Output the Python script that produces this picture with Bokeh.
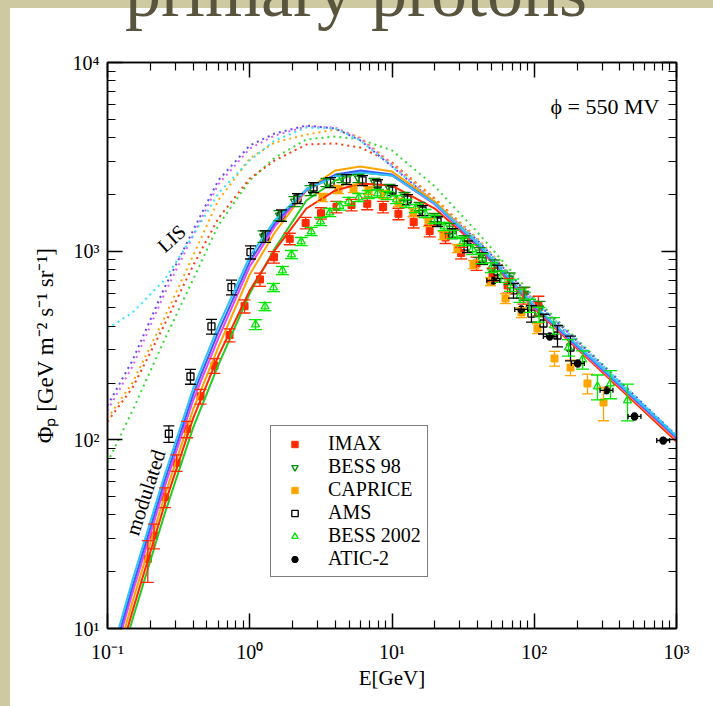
import math
from bokeh.plotting import figure
from bokeh.models import (Label, Whisker, TeeHead, ColumnDataSource, FixedTicker,
                          LogAxis, Legend, LegendItem, CustomJSTickFormatter, Div)
from bokeh.layouts import column
from bokeh.embed import file_html
from bokeh.resources import INLINE

# ------------------------------------------------------------------ data
IMAX_E = [0.192, 0.212, 0.254, 0.306, 0.363, 0.451, 0.565, 0.721, 0.919, 1.18, 1.48, 1.91, 2.47, 3.17,
          4.07, 5.19, 6.70, 8.65, 11.1, 14.2, 18.4, 23.8, 30.6, 39.3, 50.9, 64.9, 84.0, 107]
IMAX_F = [23.4, 31.1, 49.7, 75.6, 114, 170, 247, 359, 511, 708, 929, 1163, 1410, 1588,
          1715, 1757, 1783, 1715, 1578, 1427, 1279, 1181, 978, 860, 752, 658, 582, 515]
IMAX_ERR = [0.25, 0.15, 0.12, 0.10, 0.10, 0.09, 0.09, 0.08, 0.08, 0.08, 0.07, 0.07, 0.07, 0.07,
            0.07, 0.07, 0.07, 0.07, 0.07, 0.07, 0.07, 0.07, 0.07, 0.08, 0.08, 0.09, 0.10, 0.12]

BESS98_E = [1.249, 1.618, 2.064, 2.673, 3.464, 4.487, 5.814, 7.534, 9.603, 12.24, 15.61, 19.90,
            25.36, 32.33, 41.22, 52.55, 66.99, 85.40, 108.9]
BESS98_F = [1196, 1546, 1834, 2097, 2312, 2428, 2428, 2312, 2149, 1949, 1726, 1508,
            1319, 1139, 984, 840, 716, 597, 497]
BESS98_ERR = [0.07, 0.06, 0.06, 0.06, 0.05, 0.05, 0.05, 0.05, 0.05, 0.05, 0.05, 0.05,
              0.06, 0.06, 0.06, 0.07, 0.07, 0.08, 0.09]

CAPRICE_E = [3.246, 4.206, 5.362, 6.837, 8.714, 11.11, 14.16, 18.06, 23.01, 28.87, 37.41, 49.26,
             62.81, 81.36, 105.4, 138.8, 179.8, 236.7, 306.8]
CAPRICE_F = [1925, 2123, 2149, 2097, 1997, 1811, 1603, 1419, 1211, 1033, 850, 690.6,
             561.3, 473, 389.2, 269.9, 241.7, 198.9, 157.8]
CAPRICE_ERR = [0.05, 0.05, 0.05, 0.05, 0.05, 0.05, 0.05, 0.05, 0.05, 0.05, 0.05, 0.05,
               0.06, 0.06, 0.06, 0.09, 0.095, 0.12, 0.20]

AMS_E = [0.270, 0.383, 0.538, 0.744, 1.012, 1.290, 1.672, 2.166, 2.807, 3.696, 4.787, 6.203, 7.908,
         10.08, 12.85, 16.39, 20.89, 26.63, 33.95, 43.27, 55.17, 71.47, 95.6, 116.1, 145.7, 179.8]
AMS_F = [107.7, 216.6, 399, 644, 988, 1196, 1546, 1902, 2175, 2312, 2399, 2370, 2256,
         2097, 1879, 1643, 1436, 1241, 1058, 914, 780, 619, 467, 413.5, 357.3, 308.6]
AMS_ERR = [0.10, 0.09, 0.09, 0.09, 0.08, 0.07, 0.07, 0.06, 0.06, 0.06, 0.06, 0.06, 0.06,
           0.06, 0.06, 0.06, 0.06, 0.06, 0.07, 0.07, 0.08, 0.09, 0.10, 0.12, 0.13, 0.15]

BESS02_E = [1.098, 1.280, 1.469, 1.699, 1.966, 2.300, 2.704, 3.144, 3.654, 4.296, 4.969, 5.842,
            6.804, 7.908, 9.253, 10.75, 12.54, 14.63, 17.06, 19.90, 23.21, 27.06, 31.56, 36.81,
            42.93, 50.06, 58.39, 68.08, 79.40, 92.60, 108.0, 136.6, 174.1, 218.4, 278.4, 343.6, 452.4]
BESS02_F = [408.7, 508.9, 642, 790, 960, 1125, 1272, 1436, 1603, 1736, 1834, 1925,
            1997, 2022, 1973, 1879, 1789, 1684, 1584, 1472, 1351, 1226, 1125, 1021,
            914, 819, 734, 658, 582, 515, 461.7, 403.7, 308.6, 266.6, 191.8, 198.9, 161.6]
BESS02_ERR = [0.06, 0.05, 0.05, 0.05, 0.05, 0.05, 0.05, 0.05, 0.05, 0.05, 0.05, 0.05,
              0.05, 0.05, 0.05, 0.05, 0.05, 0.05, 0.05, 0.05, 0.05, 0.05, 0.05, 0.06,
              0.06, 0.06, 0.07, 0.07, 0.08, 0.08, 0.09, 0.10, 0.10, 0.11, 0.15, 0.17, 0.22]

ATIC_E = [51.5, 81.0, 128.6, 202.4, 322.0, 506.8, 806.0]
ATIC_F = [699, 491, 353, 254, 183, 133, 99.2]
ATIC_ERR = [0.04, 0.04, 0.04, 0.04, 0.04, 0.04, 0.04]
ATIC_XERR = [0.11, 0.11, 0.11, 0.11, 0.11, 0.11, 0.11]

# model curves on a common energy grid
MODEL_E = [0.1, 0.15, 0.25, 0.4, 0.6, 1, 1.5, 2.5, 4, 6, 10, 20, 40, 100, 1000]
MOD_CYAN = [6.14, 18.1, 63.9, 187, 399, 937, 1459, 2123, 2488, 2612, 2518, 1789, 1099, 515, 104.2]
MOD_BLUE = [5.70, 16.7, 59.4, 174, 371, 881, 1403, 2123, 2547, 2673, 2547, 1789, 1084, 509, 102.9]
MOD_MAGENTA = [5.30, 15.5, 55.2, 162, 344, 829, 1352, 2099, 2518, 2642, 2518, 1767, 1072, 503, 101.6]
MOD_ORANGE = [4.69, 13.9, 49.4, 145, 308, 752, 1256, 2099, 2679, 2812, 2642, 1832, 1099, 503, 100.4]
MOD_RED = [4.26, 12.4, 44.4, 130, 277, 619, 1009, 1683, 2099, 2284, 2228, 1683, 1059, 497, 98.0]
MOD_GREEN = [3.81, 11.2, 39.7, 116, 248, 597, 1033, 1857, 2370, 2612, 2518, 1811, 1099, 503, 99.2]

LIS_CYAN = [389, 473, 700, 1211, 2023, 3027, 3864, 4521, 4467, 3864, 2812, 1811, 1140, 548, 105.4]
LIS_BLUE = [152, 264, 634, 1288, 2370, 3631, 4207, 4634, 4467, 3864, 2812, 1811, 1140, 548, 105.4]
LIS_MAGENTA = [143, 245, 589, 1211, 2256, 3499, 4102, 4581, 4521, 3954, 2877, 1832, 1140, 541, 104.2]
LIS_ORANGE = [130, 201, 440, 948, 1857, 3097, 3767, 4150, 4416, 4000, 2917, 1901, 1167, 548, 102.9]
LIS_RED = [125, 189, 404, 839, 1489, 2427, 3027, 3673, 3724, 3540, 2951, 1901, 1140, 535, 101.6]
LIS_GREEN = [75.9, 143, 336, 708, 1368, 2370, 3133, 3908, 4055, 3908, 3420, 2203, 1256, 568, 104.2]

X_TICKS = [0.1, 1, 10, 100, 1000]
X_TICK_LABELS = ["10⁻¹", "10⁰", "10¹", "10²", "10³"]
Y_TICKS = [10, 100, 1000, 10000]
Y_TICK_LABELS = ["10¹", "10²", "10³", "10⁴"]

# ------------------------------------------------------------------ layout
FONT = "Liberation Serif"
BEIGE = "#cfc9a1"
PAGE_W, PAGE_H = 713, 706
OX = 10            # beige strip on the left
TOP_H = 8          # beige strip on the top
FX0, FX1, FY0, FY1 = 107, 676, 62, 628   # frame edges in page pixels


def xd(px):
    return 10 ** (-1 + 4 * (px - FX0) / (FX1 - FX0))


def yd(py):
    return 10 ** (4 - 3 * (py - FY0) / (FY1 - FY0))


p = figure(width=PAGE_W - OX, height=PAGE_H - TOP_H, x_axis_type="log", y_axis_type="log",
           x_range=(0.1, 1000), y_range=(10, 10000), output_backend="svg",
           toolbar_location=None,
           min_border_left=FX0 - OX, min_border_right=PAGE_W - FX1,
           min_border_top=FY0 - TOP_H, min_border_bottom=PAGE_H - FY1)
p.margin = (0, 0, 0, OX)
p.title.visible = False
p.background_fill_color = "white"
p.border_fill_color = "white"
p.outline_line_color = "black"
p.outline_line_width = 1.5
p.grid.visible = False

xminor = [m * 10 ** k for k in range(-1, 3) for m in range(2, 10)]
yminor = [m * 10 ** k for k in range(1, 4) for m in range(2, 10)]

p.add_layout(LogAxis(), "above")
p.add_layout(LogAxis(), "right")
for ax in p.xaxis:
    ax.ticker = FixedTicker(ticks=X_TICKS, minor_ticks=xminor)
for ax in p.yaxis:
    ax.ticker = FixedTicker(ticks=Y_TICKS, minor_ticks=yminor)
for ax in list(p.xaxis) + list(p.yaxis):
    ax.major_tick_in = 15
    ax.major_tick_out = 0
    ax.minor_tick_in = 8
    ax.minor_tick_out = 0
    ax.axis_line_width = 1.5
    ax.major_tick_line_width = 1.5
    ax.minor_tick_line_width = 1.2
    ax.axis_line_color = "black"
    ax.major_tick_line_color = "black"
    ax.minor_tick_line_color = "black"
    ax.major_label_text_font = FONT
    ax.major_label_text_color = "black"
    ax.axis_label_text_font = FONT
    ax.axis_label_text_font_style = "normal"
    ax.axis_label_text_color = "black"

blank = CustomJSTickFormatter(code="return ''")
for ax in (p.above[0], p.right[0]):
    ax.formatter = blank
    ax.major_label_text_font_size = "0px"

xb = p.below[0]
xb.major_label_overrides = dict(zip(X_TICKS, X_TICK_LABELS))
xb.major_label_text_font_size = "20px"
xb.major_label_standoff = 12
xb.axis_label = "E[GeV]"
xb.axis_label_text_font_size = "21px"
xb.axis_label_standoff = 0

yl = p.left[0]
yl.major_label_overrides = dict(zip(Y_TICKS, Y_TICK_LABELS))
yl.major_label_text_font_size = "20px"
yl.major_label_standoff = 8
yl.axis_label = "Φₚ [GeV m⁻² s⁻¹ sr⁻¹]"
yl.axis_label_text_font_size = "23px"
yl.axis_label_standoff = 12

# ------------------------------------------------------------------ curves (LIS dotted)
dot_specs = [(LIS_GREEN, "#33dd33"), (LIS_RED, "#ff3a10"), (LIS_ORANGE, "#ffa500"),
             (LIS_MAGENTA, "#e060ff"), (LIS_BLUE, "#5a4dff"), (LIS_CYAN, "#33e6ff")]
for ys, col in dot_specs:
    p.line(MODEL_E, ys, line_color=col, line_width=2, line_dash="2 4")


# ------------------------------------------------------------------ data points
def errbars(E, F, err, color, size, width=1.3):
    src = ColumnDataSource(dict(x=E, lo=[f * (1 - e) for f, e in zip(F, err)],
                                hi=[f * (1 + e) for f, e in zip(F, err)]))
    w = Whisker(source=src, base="x", lower="lo", upper="hi", dimension="height",
                line_color=color, line_width=width, level="glyph",
                upper_head=TeeHead(size=size, line_color=color, line_width=width),
                lower_head=TeeHead(size=size, line_color=color, line_width=width))
    p.add_layout(w)


C_IMAX, C_B98, C_CAP, C_AMS, C_B02, C_ATIC = "#ff2a00", "#008f00", "#ffa500", "black", "#00e600", "black"

errbars(IMAX_E, IMAX_F, IMAX_ERR, C_IMAX, 12)
errbars(BESS98_E, BESS98_F, BESS98_ERR, C_B98, 12)
errbars(CAPRICE_E, CAPRICE_F, CAPRICE_ERR, C_CAP, 11)
errbars(AMS_E, AMS_F, AMS_ERR, C_AMS, 11)
errbars(BESS02_E, BESS02_F, BESS02_ERR, C_B02, 13)
errbars(ATIC_E, ATIC_F, ATIC_ERR, C_ATIC, 4)
xsrc = ColumnDataSource(dict(y=ATIC_F, lo=[e / (1 + d) for e, d in zip(ATIC_E, ATIC_XERR)],
                             hi=[e * (1 + d) for e, d in zip(ATIC_E, ATIC_XERR)]))
p.add_layout(Whisker(source=xsrc, base="y", lower="lo", upper="hi", dimension="width",
                     line_color="black", line_width=1.3, level="glyph",
                     upper_head=TeeHead(size=5, line_color="black", line_width=1.3),
                     lower_head=TeeHead(size=5, line_color="black", line_width=1.3)))

r_imax = p.scatter(IMAX_E, IMAX_F, marker="square", size=7, fill_color=C_IMAX, line_color=C_IMAX)
r_b98 = p.scatter(BESS98_E, BESS98_F, marker="inverted_triangle", size=8, fill_color=None,
                  line_color=C_B98, line_width=1.3)
r_cap = p.scatter(CAPRICE_E, CAPRICE_F, marker="square", size=7, fill_color=C_CAP, line_color=C_CAP)
r_ams = p.scatter(AMS_E, AMS_F, marker="square", size=7, fill_color="white", line_color=C_AMS,
                  line_width=1.3)
r_b02 = p.scatter(BESS02_E, BESS02_F, marker="triangle", size=8, fill_color="white",
                  line_color=C_B02, line_width=1.3)
r_atic = p.scatter(ATIC_E, ATIC_F, marker="circle", size=7, fill_color=C_ATIC, line_color=C_ATIC)

# ------------------------------------------------------------------ modulated solid curves
solid_specs = [(MOD_GREEN, "#22cc22"), (MOD_RED, "#ff2a00"), (MOD_ORANGE, "#ffa500"),
               (MOD_MAGENTA, "#ee44ee"), (MOD_BLUE, "#3a5cff"), (MOD_CYAN, "#2ec4ff")]
for ys, col in solid_specs:
    p.line(MODEL_E, ys, line_color=col, line_width=2)

# ------------------------------------------------------------------ legend
legend = Legend(items=[LegendItem(label="IMAX", renderers=[r_imax]),
                       LegendItem(label="BESS 98", renderers=[r_b98]),
                       LegendItem(label="CAPRICE", renderers=[r_cap]),
                       LegendItem(label="AMS", renderers=[r_ams]),
                       LegendItem(label="BESS 2002", renderers=[r_b02]),
                       LegendItem(label="ATIC-2", renderers=[r_atic])],
                location=(163, 51), label_text_font=FONT, label_text_font_size="20px",
                label_text_color="black",
                label_height=20, glyph_height=16, glyph_width=35, spacing=0, padding=6,
                margin=0, label_standoff=16, border_line_color="black", border_line_width=1.5,
                background_fill_color="white", background_fill_alpha=1.0)
p.add_layout(legend)


# ------------------------------------------------------------------ texts inside the frame
def lab(px, py, text, size, align="left", base="middle", angle=0.0, color="black"):
    p.add_layout(Label(x=xd(px), y=yd(py), text=text, text_font=FONT,
                       text_font_size=f"{size}px", text_align=align, text_baseline=base,
                       angle=angle, text_color=color))


lab(550, 106, "ϕ = 550 MV", 22)
lab(171, 238, "LIS", 20, align="center", angle=math.radians(42))
lab(145, 492, "modulated", 21, align="center", angle=math.radians(72))

# ------------------------------------------------------------------ slide title (cut off at the top)
title_html = ('<svg xmlns="http://www.w3.org/2000/svg" width="713" height="8" '
              'style="position:absolute;left:0;top:0;overflow:visible;display:block">'
              f'<rect x="{OX}" y="29" width="{PAGE_W - OX}" height="10" fill="white"/>'
              '<text x="125" y="16" font-family="Liberation Serif" '
              'style="font-family:\'Liberation Serif\',serif;font-size:72px" '
              'font-size="72" fill="#58543d">primary protons</text></svg>')
title_div = Div(text=title_html, width=PAGE_W, height=TOP_H, margin=(0, 0, 0, 0),
                styles={"overflow": "visible", "position": "relative", "z-index": "5"})

page_bg = (f"linear-gradient({BEIGE} {TOP_H}px, rgba(255,255,255,0) {TOP_H}px), "
           f"linear-gradient(to right, {BEIGE} {OX}px, white {OX}px)")
lay = column(title_div, p, spacing=0, styles={"background": page_bg})
open("out.html", "w").write(file_html(lay, INLINE))
